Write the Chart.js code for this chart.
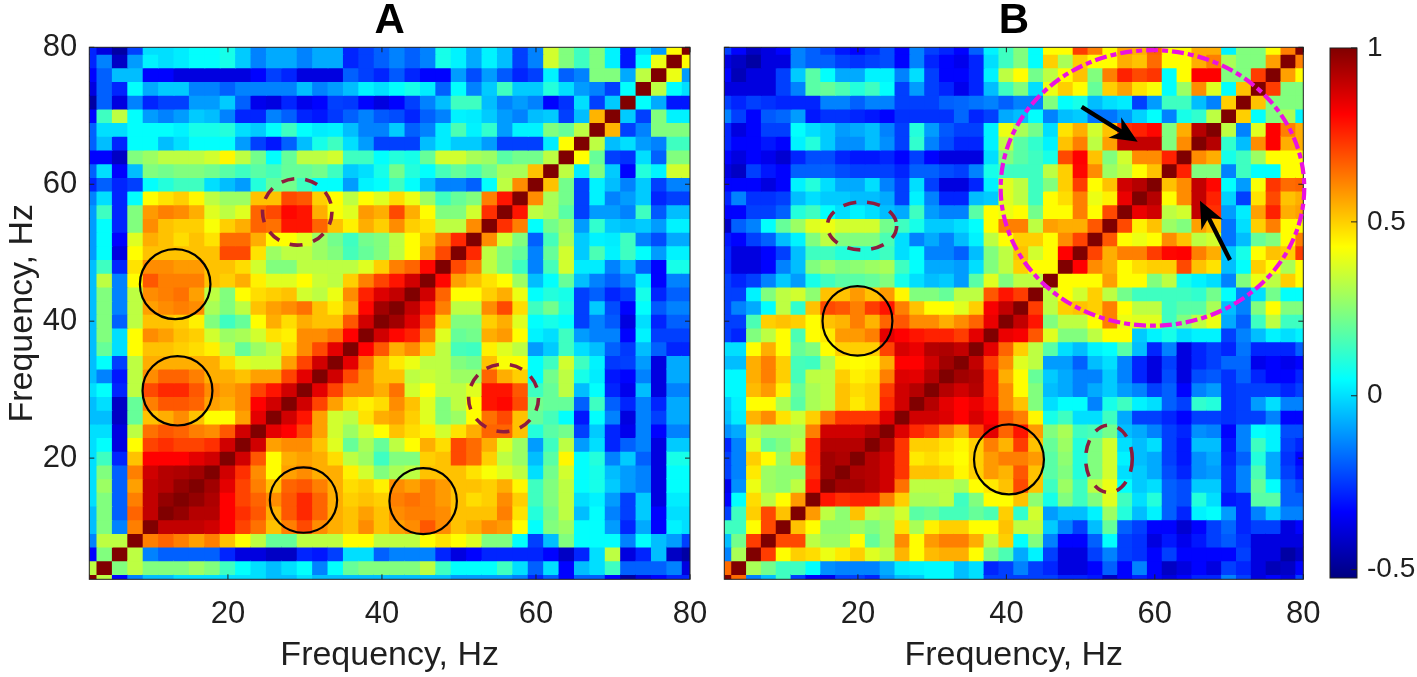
<!DOCTYPE html>
<html>
<head>
<meta charset="utf-8">
<title>Frequency correlation maps</title>
<script src="https://cdn.jsdelivr.net/npm/chart.js@4"></script>
<style>
  html, body { margin: 0; padding: 0; background: #fff; overflow: hidden; }
  canvas { position: absolute; top: 0; }
</style>
</head>
<body>
<canvas id="cA" width="710" height="677" style="left:0"></canvas>
<canvas id="cB" width="620" height="677" style="left:705px"></canvas>
<canvas id="cBar" width="92" height="677" style="left:1325px"></canvas>
<script>
// cell centres of both maps, Hz
const FREQS = [2,4,6,8,10,12,14,16,18,20,22,24,26,28,30,32,34,36,38,40,42,44,46,48,50,52,54,56,58,60,62,64,66,68,70,72,74,76,78,80];
const AXIS_TICKS = [20, 40, 60, 80];
const BAR_TICKS = [-0.5, 0, 0.5, 1];
const COLOR_MIN = -0.524, COLOR_MAX = 1;
const JET_STOPS = [0, 0.125, 0.375, 0.625, 0.875, 1];
const JET_COLORS = ['#000080', '#0000ff', '#00ffff', '#ffff00', '#ff0000', '#800000'];

// correlation x100, lower triangle of the symmetric maps: one row per frequency, from 2 Hz up
const valuesA = [
[100],
[33,100],
[-33,24,100],
[-14,33,33,100],
[-5,24,-14,62,100],
[-5,24,-19,66,90,100],
[0,24,-19,62,90,97,100],
[0,28,-19,57,90,92,97,100],
[0,24,-19,62,88,92,93,95,100],
[0,14,-28,52,81,81,81,85,88,100],
[0,5,-38,43,71,74,71,71,74,88,100],
[0,0,-38,33,64,68,66,62,60,68,88,100],
[-5,-5,-42,20,52,55,60,52,43,43,57,85,100],
[-5,0,-42,20,62,68,68,66,57,55,60,81,88,100],
[0,5,-28,33,70,75,75,68,60,57,60,71,78,88,100],
[-5,-14,-30,33,60,66,66,62,55,55,52,57,57,71,85,100],
[-5,5,-24,33,55,55,55,55,55,48,38,36,36,57,71,88,100],
[-5,20,0,43,52,52,50,48,45,33,20,28,33,48,60,70,85,100],
[-5,24,0,43,60,57,52,50,36,28,30,36,47,45,60,60,64,81,100],
[-5,24,-19,33,52,52,50,45,24,14,20,43,55,48,55,52,52,68,88,100],
[-5,24,-14,33,57,60,62,60,30,24,33,52,57,60,64,52,46,55,80,95,100],
[-5,24,-14,33,60,62,64,57,33,24,43,48,50,52,36,33,40,60,76,86,90,100],
[-5,33,-14,43,68,62,62,62,52,50,55,45,38,38,43,35,33,50,62,71,78,88,100],
[-5,14,-28,47,60,60,58,58,52,52,48,36,24,24,33,33,33,33,38,50,62,66,80,100],
[-10,5,-38,43,52,52,52,52,52,70,70,47,28,33,33,28,24,15,20,24,33,43,57,70,100],
[-10,5,-33,38,55,52,48,52,47,65,65,55,43,43,38,28,22,14,22,24,33,43,52,62,75,100],
[-10,5,-28,24,60,52,50,50,42,50,55,66,64,78,78,66,52,45,55,50,60,50,47,33,33,60,100],
[-10,14,-28,24,58,62,60,55,38,33,38,66,70,80,78,55,42,38,58,55,70,55,43,24,24,36,74,100],
[-14,0,-28,5,43,47,50,44,33,28,28,52,52,70,68,50,43,33,43,38,48,40,28,14,20,24,62,78,100],
[-28,-19,-28,-24,5,10,14,14,0,-5,-10,10,20,22,14,5,5,-10,3,5,14,5,-5,-14,-14,-19,5,33,60,100],
[-19,0,-33,-5,24,22,24,24,22,18,14,18,15,20,20,22,14,-3,0,8,22,10,5,15,20,15,22,30,30,52,100],
[-33,-33,-42,24,28,33,33,33,36,44,33,22,5,20,33,33,36,14,14,5,10,8,20,36,36,30,28,18,22,22,33,100],
[-19,-5,-28,5,5,-5,0,5,5,5,-10,-24,-30,-19,-5,8,14,0,-10,-24,-24,-24,-5,2,-3,-3,-10,-24,-24,-24,2,43,100],
[-19,0,0,5,5,5,3,8,8,10,0,-3,5,14,5,2,3,-5,-14,-14,-3,-19,-14,2,16,3,12,-10,3,3,24,20,33,100],
[-33,14,33,5,-10,-14,-10,-3,-5,-14,-28,-28,-14,-19,-28,-30,-25,-19,-14,-20,-22,-28,-19,-14,3,2,-3,-10,-14,-5,-3,-24,-5,54,100],
[-47,-19,-38,-14,-28,-24,-24,-10,-10,-3,-19,-36,-38,-28,-36,-33,-24,-25,-33,-38,-33,-24,-14,-5,14,14,-5,-14,-10,-14,-33,-26,0,-24,-3,100],
[-38,-19,-28,5,-8,-3,-3,-14,-14,-19,-14,-14,-14,-14,-5,-14,-10,-5,3,0,5,8,2,-19,5,-14,-3,14,-3,-3,10,0,-10,-14,-24,5,100],
[-33,-19,-5,-5,-33,-33,-38,-38,-38,-38,-38,-33,-24,-28,-38,-38,-38,-19,-24,-28,-20,-28,-33,-33,-10,-22,-10,-20,-28,-24,3,-19,-14,24,24,-8,33,100],
[-28,-14,-42,-10,3,0,2,5,5,8,-3,-14,-8,-8,-14,-8,-8,-28,-24,-19,-14,-19,-14,8,3,-8,3,-5,-24,-14,36,24,14,24,3,-30,5,40,100],
[-28,-38,-47,-24,0,0,2,5,5,8,-3,-14,-8,-8,-14,-8,-8,-28,-24,-19,-14,-19,-14,8,3,-8,3,-5,-24,-14,36,24,14,24,3,-30,0,-10,43,100]
];

const valuesB = [
[100],
[65,100],
[-14,30,100],
[-5,22,72,100],
[14,14,43,70,100],
[-24,14,50,70,52,100],
[-33,5,48,33,43,58,100],
[-36,-12,40,28,26,33,78,100],
[-24,-14,46,28,26,26,74,95,100],
[-24,-14,50,43,28,52,76,95,93,100],
[-28,-14,38,20,24,33,76,92,92,92,100],
[-12,-8,33,28,28,30,62,88,88,88,92,100],
[-5,2,54,60,47,36,50,64,73,73,73,86,100],
[-3,3,43,43,30,18,30,33,52,46,50,75,88,100],
[4,4,53,58,45,20,30,33,52,48,50,72,88,92,100],
[4,4,55,62,50,15,33,33,50,45,47,62,86,85,92,100],
[-5,-5,55,62,50,15,14,30,44,43,44,55,81,81,88,95,100],
[0,0,43,55,43,20,24,43,50,50,50,71,87,84,92,93,90,100],
[-24,-28,24,33,43,16,43,46,58,58,62,85,81,78,76,76,72,85,100],
[-24,-24,16,50,52,50,43,52,54,62,54,66,68,60,60,55,60,66,84,100],
[-24,-14,-8,5,33,12,52,70,68,62,72,78,62,52,43,43,38,50,82,90,100],
[-24,-24,3,24,33,36,26,52,52,58,52,58,44,24,24,20,33,33,68,78,72,100],
[-24,-28,-24,-14,-3,-10,8,14,18,18,20,24,8,0,-5,-3,-10,18,38,24,33,33,100],
[-28,-38,-38,-33,-14,-5,24,28,24,26,28,30,14,5,-8,-8,-10,0,24,33,50,43,43,100],
[-28,-38,-38,-33,-24,-5,14,14,10,10,10,14,0,5,-14,-14,-19,-5,24,33,52,36,43,81,100],
[-30,-33,-24,-19,-5,3,24,33,24,24,24,16,0,-14,-8,-14,-5,3,33,43,50,50,43,60,71,100],
[-42,-19,-14,5,20,28,38,40,36,36,36,22,14,8,-3,-3,0,5,43,62,62,33,57,55,55,68,100],
[-33,-33,-24,-24,-19,10,14,5,0,3,0,-5,-8,14,-10,-14,-14,18,43,40,43,22,43,43,62,43,70,100],
[-28,-14,-26,-26,-24,-5,0,-3,-3,-5,-5,-8,-24,3,-14,-28,-28,-5,-3,38,33,14,43,48,62,40,45,84,100],
[-33,-33,-33,-38,-33,3,10,0,-8,-8,0,-14,-24,0,-24,-38,-38,-28,3,38,33,14,24,50,72,43,52,88,92,100],
[-38,-42,-24,-30,-33,-19,-19,-19,-22,-24,-24,-24,-28,-19,-19,-22,-24,-14,8,14,14,14,33,50,80,60,28,33,43,52,100],
[-33,-38,-33,-36,-40,-28,-22,-22,-28,-30,-30,-28,-33,-24,-33,-38,-38,-38,0,24,18,14,8,70,81,52,24,36,60,60,76,100],
[-28,-33,-33,-30,-33,3,10,-3,-12,-12,-5,-12,-24,12,-14,-22,-28,-28,3,33,18,12,3,52,62,33,57,90,90,90,24,60,100],
[-28,-38,-33,-24,-24,5,0,-3,-10,-8,-5,-14,-24,10,-10,-20,-24,-24,3,40,30,22,0,47,55,36,52,74,76,80,24,55,92,100],
[-14,-24,-33,-20,-18,-10,-30,-26,-26,-28,-30,-33,-26,-26,-26,-26,-18,-28,-24,-8,-5,5,-14,-5,-3,-16,-16,-10,-2,5,-14,8,12,33,100],
[-24,-28,-24,-26,-28,-28,-28,-14,-14,-19,-14,-14,-24,-24,-24,-19,-18,-16,-14,-19,-14,-14,24,5,8,-5,0,2,-24,-10,14,14,-5,-14,50,100],
[-38,-38,-38,-38,-24,-14,18,20,16,10,14,5,-24,-10,-24,-28,-36,-28,-5,14,24,0,40,50,43,20,50,57,47,42,5,28,60,38,5,52,100],
[-33,-44,-38,-38,-24,-3,18,5,-8,-8,3,3,-14,0,-24,-33,-33,-28,3,33,43,22,33,43,52,24,62,76,70,73,5,43,81,81,24,24,72,100],
[-38,-42,-47,-38,-38,-14,-19,-19,-24,-26,-24,-22,-33,-14,-28,-33,-36,-28,0,14,24,5,50,30,50,43,43,55,52,65,43,43,55,62,30,24,24,57,100],
[-24,-33,-42,-38,-33,-14,-19,-24,-30,-33,-28,-22,-33,-14,-24,-28,-33,-19,3,14,24,5,43,43,72,62,43,57,55,66,43,43,55,55,3,24,24,43,62,100]
];

// overlays, in Hz: [centre x, centre y, radius x, radius y]
const solidA = [[13.15,45.41,4.58,5.11],[13.45,29.83,4.54,5.07],[29.81,13.87,4.37,4.77],[45.35,13.72,4.38,4.82]];
const dashedA = [[29.0,55.97,4.51,4.86],[55.79,28.79,4.54,4.93]];
const solidB = [[19.94,40.04,4.71,5.08],[40.35,19.81,4.71,5.11]];
const dashedB = [[20.55,53.91,4.67,3.5],[53.82,19.9,3.14,4.92]];
const ringB = [[59.68,59.46,20.45,20.12]];
// [tail x, tail y, tip x, tip y]
const arrowsB = [[50.14,71.31,57.69,66.2],[70.12,48.92,66.08,57.58]];

const INK = '#1f1f1f';
const FONT = '"Liberation Sans", Arial, sans-serif';

function jet(v) {
    const t = (v - COLOR_MIN) / (COLOR_MAX - COLOR_MIN);
    const ch = x => Math.round(255 * Math.max(0, Math.min(1, 1.5 - Math.abs(4 * t - x))));
    return `rgb(${ch(3)},${ch(2)},${ch(1)})`;
}

function toCells(rows) {
    const cells = [];
    rows.forEach((row, j) => {
        row.forEach((val, k) => {
            cells.push({ x: FREQS[k], y: [FREQS[j] - 1, FREQS[j] + 1], v: val / 100 });
            if (k !== j) cells.push({ x: FREQS[j], y: [FREQS[k] - 1, FREQS[k] + 1], v: val / 100 });
        });
    });
    return cells;
}

// frame and inward ticks on all sides, like the original figure
const frameTicks = {
    id: 'frameTicks',
    afterDatasetsDraw(chart, args, opts) {
        const { ctx, chartArea: a, scales } = chart;
        ctx.save();
        ctx.strokeStyle = INK;
        ctx.lineWidth = 1;
        ctx.strokeRect(a.left, a.top, a.right - a.left, a.bottom - a.top);
        ctx.beginPath();
        if (!opts.barOnly) {
            AXIS_TICKS.forEach(t => {
                const px = scales.x.getPixelForValue(t);
                ctx.moveTo(px, a.bottom); ctx.lineTo(px, a.bottom - 5);
                ctx.moveTo(px, a.top); ctx.lineTo(px, a.top + 5);
                const py = scales.y.getPixelForValue(t);
                ctx.moveTo(a.left, py); ctx.lineTo(a.left + 5, py);
                ctx.moveTo(a.right, py); ctx.lineTo(a.right - 5, py);
            });
        } else {
            BAR_TICKS.forEach(t => {
                const py = scales.y.getPixelForValue(t);
                ctx.moveTo(a.right, py); ctx.lineTo(a.right - 6, py);
            });
        }
        ctx.stroke();
        ctx.restore();
    }
};

const overlays = {
    id: 'overlays',
    afterDraw(chart, args, opts) {
        const { ctx, scales: { x, y } } = chart;
        const ellipses = (list, color, width, dash) => {
            ctx.strokeStyle = color;
            ctx.lineWidth = width;
            ctx.setLineDash(dash);
            list.forEach(([cx, cy, rx, ry]) => {
                const px = x.getPixelForValue(cx), py = y.getPixelForValue(cy);
                ctx.beginPath();
                ctx.ellipse(px, py, x.getPixelForValue(cx + rx) - px, py - y.getPixelForValue(cy + ry), 0, 0, Math.PI * 2);
                ctx.stroke();
            });
            ctx.setLineDash([]);
        };
        ctx.save();
        ellipses(opts.solid || [], '#000', 2.2, []);
        ellipses(opts.dashed || [], '#8e1b3e', 3.6, [13, 11]);
        ellipses(opts.ring || [], '#ea12e0', 4.2, [12, 4, 6, 4]);
        (opts.arrows || []).forEach(([x0, y0, x1, y1]) => {
            const ax = x.getPixelForValue(x0), ay = y.getPixelForValue(y0);
            const bx = x.getPixelForValue(x1), by = y.getPixelForValue(y1);
            const ang = Math.atan2(by - ay, bx - ax);
            ctx.strokeStyle = '#000';
            ctx.lineWidth = 4.4;
            ctx.beginPath();
            ctx.moveTo(ax, ay);
            ctx.lineTo(bx - 14 * Math.cos(ang), by - 14 * Math.sin(ang));
            ctx.stroke();
            ctx.translate(bx, by);
            ctx.rotate(ang);
            ctx.fillStyle = '#000';
            ctx.beginPath();
            ctx.moveTo(0, 0);
            ctx.lineTo(-27, -12);
            ctx.lineTo(-19, 0);
            ctx.lineTo(-27, 12);
            ctx.closePath();
            ctx.fill();
            ctx.setTransform(1, 0, 0, 1, 0, 0);
        });
        ctx.restore();
    }
};

function heatmap(id, rows, cfg) {
    return new Chart(document.getElementById(id), {
        type: 'bar',
        data: {
            datasets: [{
                data: toCells(rows),
                backgroundColor: c => c.raw ? jet(c.raw.v) : '#fff',
                borderWidth: 0,
                inflateAmount: 0.5,
                barPercentage: 1,
                categoryPercentage: 1
            }]
        },
        options: {
            responsive: false,
            animation: false,
            events: [],
            layout: { padding: { left: 0, right: cfg.right, top: 0, bottom: 0 } },
            scales: {
                x: {
                    type: 'linear', offset: false, min: 2, max: 80,
                    grid: { display: false, drawTicks: false }, border: { display: false },
                    afterBuildTicks: s => { s.ticks = AXIS_TICKS.map(value => ({ value })); },
                    afterFit: s => { s.height = 97.7; s.paddingLeft = 0; s.paddingRight = 0; },
                    ticks: { autoSkip: false, maxRotation: 0, color: INK, padding: 17, font: { family: FONT, size: 31 } },
                    title: { display: true, text: 'Frequency, Hz', color: INK, padding: { top: 0, bottom: 1 }, font: { family: FONT, size: 34, lineHeight: 1.2 } }
                },
                y: {
                    type: 'linear', min: 2.3, max: 80,
                    grid: { display: false, drawTicks: false }, border: { display: false },
                    afterBuildTicks: s => { s.ticks = AXIS_TICKS.map(value => ({ value })); },
                    afterFit: s => { s.width = cfg.yWidth; s.paddingTop = 0; s.paddingBottom = 0; },
                    ticks: { display: cfg.yLabels, autoSkip: false, color: INK, padding: 12, font: { family: FONT, size: 31 } },
                    title: { display: cfg.yLabels, text: 'Frequency, Hz', color: INK, padding: { top: 3, bottom: 0 }, font: { family: FONT, size: 34, lineHeight: 1.15 } }
                }
            },
            plugins: {
                legend: { display: false },
                tooltip: { enabled: false },
                title: { display: true, fullSize: false, text: cfg.title, color: '#000', padding: { top: 0, bottom: 5.3 }, font: { family: FONT, size: 42, weight: 'bold', lineHeight: 1 } },
                overlays: cfg.overlays,
                frameTicks: {}
            }
        },
        plugins: [frameTicks, overlays]
    });
}

heatmap('cA', valuesA, { title: 'A', right: 20, yWidth: 89.3, yLabels: true, overlays: { solid: solidA, dashed: dashedA } });
heatmap('cB', valuesB, { title: 'B', right: 21.7, yWidth: 19.3, yLabels: false, overlays: { solid: solidB, dashed: dashedB, ring: ringB, arrows: arrowsB } });

// colour bar
new Chart(document.getElementById('cBar'), {
    type: 'bar',
    data: {
        labels: [''],
        datasets: [{
            data: [[COLOR_MIN, COLOR_MAX]],
            barPercentage: 1,
            categoryPercentage: 1,
            borderWidth: 0,
            backgroundColor: c => {
                const a = c.chart.chartArea;
                if (!a) return '#000';
                const g = c.chart.ctx.createLinearGradient(0, a.bottom, 0, a.top);
                JET_STOPS.forEach((s, i) => g.addColorStop(s, JET_COLORS[i]));
                return g;
            }
        }]
    },
    options: {
        responsive: false,
        animation: false,
        events: [],
        layout: { padding: { left: 5, right: 0, top: 48, bottom: 99 } },
        scales: {
            x: { display: false },
            y: {
                position: 'right', min: COLOR_MIN, max: COLOR_MAX,
                grid: { display: false, drawTicks: false }, border: { display: false },
                afterBuildTicks: s => { s.ticks = BAR_TICKS.map(value => ({ value })); },
                afterFit: s => { s.width = 60; s.paddingTop = 0; s.paddingBottom = 0; },
                ticks: { autoSkip: false, color: INK, padding: 10, crossAlign: 'near', callback: v => String(v), font: { family: FONT, size: 28 } }
            }
        },
        plugins: { legend: { display: false }, tooltip: { enabled: false }, frameTicks: { barOnly: true } }
    },
    plugins: [frameTicks]
});
</script>
</body>
</html>
